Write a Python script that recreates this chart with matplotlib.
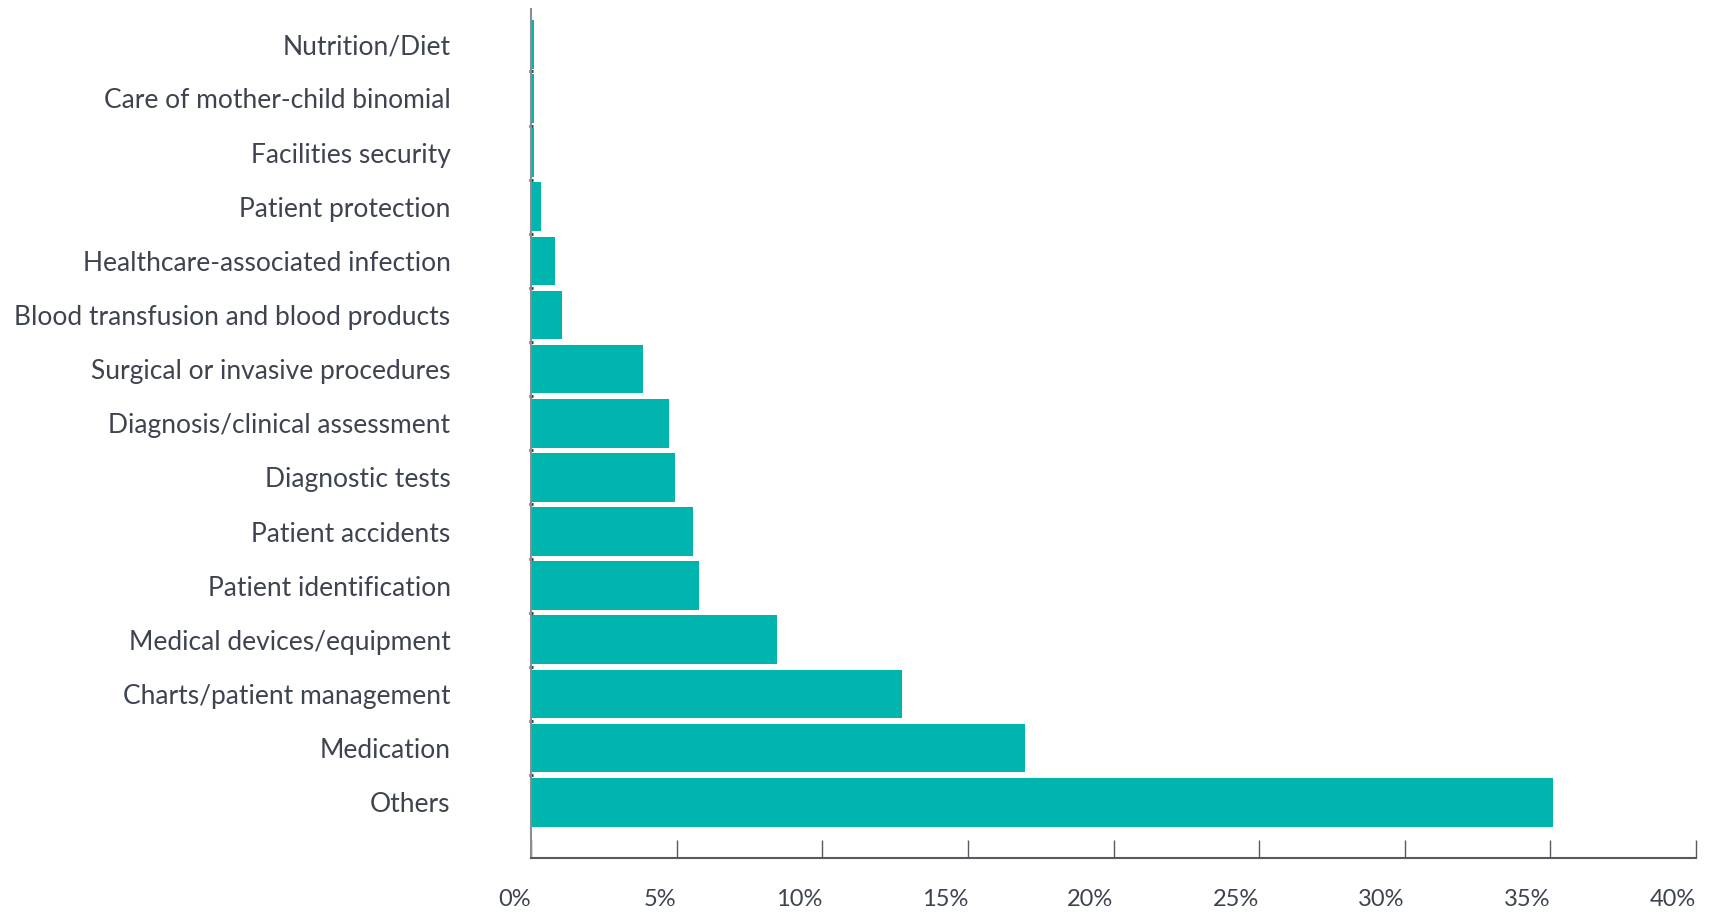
import matplotlib
matplotlib.use("Agg")
import matplotlib.pyplot as plt
import numpy as np

categories = [
    "Others",
    "Medication",
    "Charts/patient management",
    "Medical devices/equipment",
    "Patient identification",
    "Patient accidents",
    "Diagnostic tests",
    "Diagnosis/clinical assessment",
    "Surgical or invasive procedures",
    "Blood transfusion and blood products",
    "Healthcare-associated infection",
    "Patient protection",
    "Facilities security",
    "Care of mother-child binomial",
    "Nutrition/Diet",
]
values = [35.1, 16.95, 12.72, 8.43, 5.76, 5.55, 4.95, 4.72, 3.84, 1.05, 0.83, 0.33, 0.11, 0.11, 0.1]
xticks = [0, 5, 10, 15, 20, 25, 30, 35, 40]
xtick_labels = [f"{t}%" for t in xticks]

plt.rcParams['font.family'] = ['Lato', 'DejaVu Sans']
text_color = "#3d4450"
bar_color = "#00b5ad"

fig = plt.figure(figsize=(17.19, 9.14), dpi=100)
ax = fig.add_axes([0.309, 0.0613, 0.6776, 0.9287])

y = np.arange(len(categories))
ax.barh(y, values, height=0.9, color=bar_color)

ax.set_xlim(0, 40)
ax.set_ylim(-1.03, 14.65)

ax.set_yticks(y)
ax.set_yticklabels(categories, fontsize=19, color=text_color)
ax.tick_params(axis='y', which='major', length=0, pad=58)
ax.set_yticks(y[:-1] + 0.5, minor=True)
ax.tick_params(axis='y', which='minor', length=3, width=2, direction='inout', color="#333333")

ax.set_xticks(xticks)
ax.set_xticklabels(xtick_labels, fontsize=17, color=text_color, ha='right')
ax.tick_params(axis='x', direction='in', length=13, width=1, color="#555a60", pad=22)

for side in ["top", "right"]:
    ax.spines[side].set_visible(False)
ax.spines["left"].set_color("#8a8e93")
ax.spines["left"].set_linewidth(1.5)
ax.spines["bottom"].set_color("#555a60")
ax.spines["bottom"].set_linewidth(1.5)

fig.savefig("out.png", dpi=100)
